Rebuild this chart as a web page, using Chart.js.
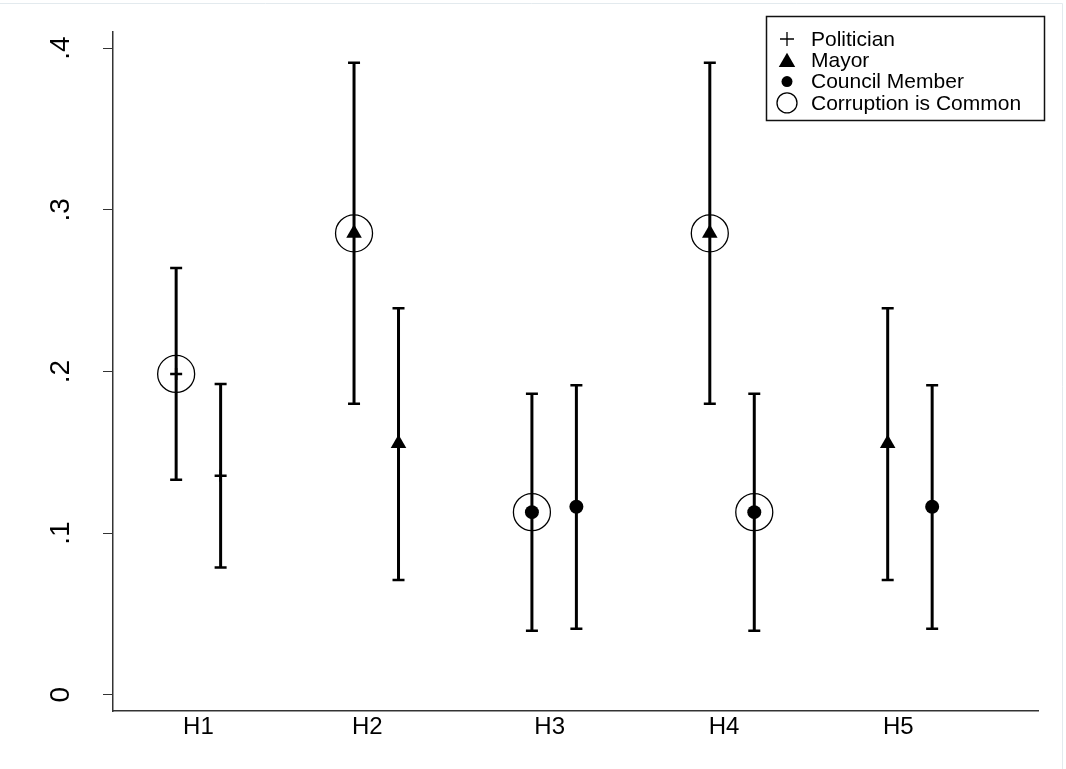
<!DOCTYPE html>
<html>
<head>
<meta charset="utf-8">
<title>Estimates by hypothesis</title>
<script src="https://cdn.jsdelivr.net/npm/chart.js@4.4.1/dist/chart.umd.min.js"></script>
<style>
  html, body { margin: 0; padding: 0; background: #fff; }
  canvas { display: block; }
</style>
</head>
<body>
<canvas id="estimatechart" width="1066" height="769"></canvas>
<script>
// hypotheses on the x axis and where their labels sit
var hypotheses = ["H1", "H2", "H3", "H4", "H5"];
var hypothesisTicks = [1.125, 2.075, 3.1, 4.08, 5.06];

// one entry per estimate, two estimates per hypothesis
var estX = [1, 1.25, 2, 2.25, 3, 3.25, 4, 4.25, 5, 5.25];
var estimate = [0.1985, 0.1355, 0.2855, 0.1555, 0.113, 0.1163, 0.2855, 0.113, 0.1555, 0.1163];
var lower = [0.133, 0.0787, 0.180, 0.0711, 0.0396, 0.0408, 0.180, 0.0396, 0.0711, 0.0408];
var upper = [0.264, 0.1923, 0.391, 0.2391, 0.1863, 0.1915, 0.391, 0.1863, 0.2391, 0.1915];
var target = ["Politician", "Politician", "Mayor", "Mayor", "Council Member", "Council Member",
              "Mayor", "Council Member", "Mayor", "Council Member"];
var corruptionCommon = [true, false, true, false, true, false, true, true, false, false];

var yTicks = [0, 0.1, 0.2, 0.3, 0.4];
var yTickLabels = ["0", ".1", ".2", ".3", ".4"];

var fontFamily = "'Liberation Sans', Arial, sans-serif";

function pointsFor(name) {
  var pts = [];
  for (var i = 0; i < estX.length; i++) {
    if (target[i] === name) pts.push({x: estX[i], y: estimate[i]});
  }
  return pts;
}

var commonPoints = [];
for (var i = 0; i < estX.length; i++) {
  if (corruptionCommon[i]) commonPoints.push({x: estX[i], y: estimate[i]});
}

var datasets = [
  {
    label: "Politician", data: pointsFor("Politician"),
    pointStyle: "cross", pointRadius: 6, pointBorderWidth: 2.5,
    pointBorderColor: "#000", pointBackgroundColor: "#000",
    legendRadius: 7, legendBorder: 1.3, legendFill: "#000"
  },
  {
    label: "Mayor", data: pointsFor("Mayor"),
    pointStyle: "triangle", pointRadius: 9, pointBorderWidth: 0,
    pointBorderColor: "#000", pointBackgroundColor: "#000",
    legendRadius: 9.5, legendBorder: 0, legendFill: "#000"
  },
  {
    label: "Council Member", data: pointsFor("Council Member"),
    pointStyle: "circle", pointRadius: 7, pointBorderWidth: 0,
    pointBorderColor: "#000", pointBackgroundColor: "#000",
    legendRadius: 5.5, legendBorder: 0, legendFill: "#000"
  },
  {
    label: "Corruption is Common", data: commonPoints,
    pointStyle: "circle", pointRadius: 18.5, pointBorderWidth: 1.3,
    pointBorderColor: "#000", pointBackgroundColor: "rgba(0,0,0,0)",
    legendRadius: 10, legendBorder: 1.3, legendFill: "rgba(0,0,0,0)"
  }
];
datasets.forEach(function(d) {
  d.showLine = false;
  d.pointHoverRadius = d.pointRadius;
  d.pointHoverBorderWidth = d.pointBorderWidth;
});

// whiskers with caps, drawn under the markers
var errorBars = {
  id: "errorBars",
  beforeDatasetsDraw: function(chart) {
    var ctx = chart.ctx, xs = chart.scales.x, ys = chart.scales.y;
    ctx.save();
    ctx.strokeStyle = "#000";
    for (var i = 0; i < estX.length; i++) {
      var px = xs.getPixelForValue(estX[i]);
      var top = ys.getPixelForValue(upper[i]);
      var bot = ys.getPixelForValue(lower[i]);
      ctx.lineWidth = 3;
      ctx.beginPath();
      ctx.moveTo(px, top);
      ctx.lineTo(px, bot);
      ctx.stroke();
      ctx.lineWidth = 2.5;
      ctx.beginPath();
      ctx.moveTo(px - 6, top); ctx.lineTo(px + 6, top);
      ctx.moveTo(px - 6, bot); ctx.lineTo(px + 6, bot);
      ctx.stroke();
    }
    ctx.restore();
  }
};

// boxed legend in the top right corner, like the stata one
var boxLegend = {
  id: "boxLegend",
  beforeDraw: function(chart) {
    var ctx = chart.ctx;
    ctx.save();
    ctx.strokeStyle = "#e3eaee";
    ctx.lineWidth = 1;
    ctx.beginPath();
    ctx.moveTo(0, 3.5); ctx.lineTo(1062.5, 3.5); ctx.lineTo(1062.5, 769);
    ctx.stroke();
    ctx.restore();
  },
  afterDraw: function(chart) {
    var ctx = chart.ctx;
    var left = 766, top = 16, w = 278, h = 104, rowH = 21.3;
    ctx.save();
    ctx.fillStyle = "#fff";
    ctx.fillRect(left, top, w, h);
    ctx.strokeStyle = "#111";
    ctx.lineWidth = 1.5;
    ctx.strokeRect(left + 0.5, top + 0.5, w, h);
    ctx.font = "21px " + fontFamily;
    ctx.textBaseline = "middle";
    chart.data.datasets.forEach(function(d, i) {
      var cy = top + 23 + i * rowH;
      ctx.fillStyle = d.legendFill;
      ctx.strokeStyle = "#000";
      ctx.lineWidth = d.legendBorder;
      Chart.helpers.drawPoint(ctx, {
        pointStyle: d.pointStyle, radius: d.legendRadius,
        borderWidth: d.legendBorder, rotation: 0
      }, left + 21, d.pointStyle === "triangle" ? cy + 2 : cy);
      ctx.fillStyle = "#000";
      ctx.fillText(d.label, left + 45, cy + 1);
    });
    ctx.restore();
  }
};

var ctx = document.getElementById("estimatechart").getContext("2d");
var estimatechart = new Chart(ctx, {
  type: "scatter",
  data: {datasets: datasets},
  options: {
    responsive: false,
    devicePixelRatio: 1,
    animation: false,
    events: [],
    layout: {padding: {left: 0, right: 28, top: 32, bottom: 0}},
    plugins: {legend: {display: false}, tooltip: {enabled: false}},
    scales: {
      x: {
        type: "linear",
        min: 0.645,
        max: 5.845,
        grid: {display: false, drawTicks: false},
        border: {display: true, color: "#333", width: 1.5},
        afterBuildTicks: function(scale) {
          scale.ticks = hypothesisTicks.map(function(v) { return {value: v}; });
        },
        afterFit: function(scale) {
          scale.height = 58;
          scale.paddingLeft = 0;
          scale.paddingRight = 0;
        },
        ticks: {
          padding: 2,
          color: "#000",
          font: {family: fontFamily, size: 24},
          callback: function(v, i) { return hypotheses[i]; }
        }
      },
      y: {
        min: -0.01,
        max: 0.41,
        grid: {display: true, drawOnChartArea: false, drawTicks: true, tickLength: 10, color: "#333", lineWidth: 1},
        border: {display: true, color: "#333", width: 1.5},
        afterBuildTicks: function(scale) {
          scale.ticks = yTicks.map(function(v) { return {value: v}; });
        },
        afterFit: function(scale) {
          scale.width = 113;
          scale.paddingTop = 0;
          scale.paddingBottom = 0;
        },
        ticks: {
          minRotation: 90,
          maxRotation: 90,
          crossAlign: "center",
          padding: 30,
          color: "#000",
          font: {family: fontFamily, size: 28},
          callback: function(v, i) { return yTickLabels[i]; }
        }
      }
    }
  },
  plugins: [errorBars, boxLegend]
});
</script>
</body>
</html>
